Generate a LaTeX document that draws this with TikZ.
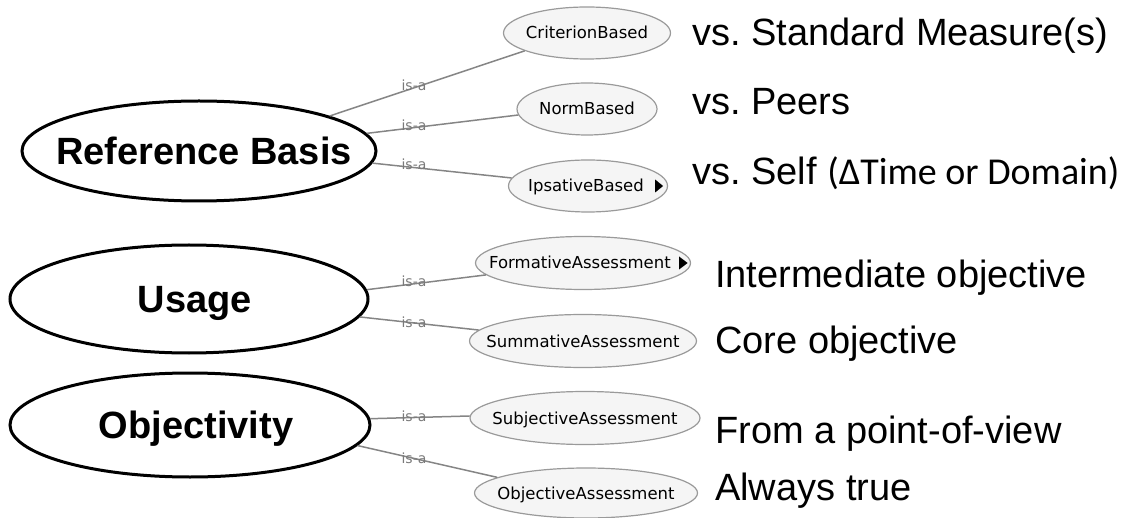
\documentclass[tikz,border=0pt]{standalone}
\usepackage{fontspec}
\setmainfont{Liberation Sans}
\newfontfamily\clsfont{DejaVu Sans}
\newfontfamily\calfont{Carlito}
\usetikzlibrary{shapes.geometric,calc}
\definecolor{edgegray}{HTML}{858585}
\definecolor{isagray}{HTML}{7A7A7A}
\definecolor{clsfill}{HTML}{F5F5F5}
\definecolor{clsdraw}{HTML}{9A9A9A}
\newcommand{\zw}[1]{\makebox[0pt][c]{#1}}
\frenchspacing
\begin{document}
\begin{tikzpicture}[x=1pt,y=-1pt,
  bigclass/.style={ellipse, draw=black, line width=3pt, fill=white, inner sep=0pt,
    text height=27pt, text depth=0pt, font=\fontsize{38}{40}\selectfont\bfseries},
  cls/.style={ellipse, draw=clsdraw, line width=1.2pt, fill=clsfill, inner sep=0pt,
    text height=12pt, text depth=0pt, font=\clsfont\fontsize{16.5}{19}\selectfont},
  isa/.style={text=isagray, inner sep=0pt, anchor=base, font=\clsfont\fontsize{14}{16}\selectfont},
  rel/.style={draw=edgegray, line width=1.5pt},
  note/.style={anchor=base west, inner sep=0pt, font=\fontsize{38}{40}\selectfont},
  tri/.style={fill=black}
]
\useasboundingbox (0,0) rectangle (1126,518);

% main concepts
\node[bigclass, minimum width=354pt, minimum height=100pt] (rb) at (199,151) {\zw{\hspace{10pt}Reference Basis}};
\node[bigclass, minimum width=358pt, minimum height=108pt] (us) at (189,299) {\zw{\hspace{12pt}Usage}};
\node[bigclass, minimum width=360pt, minimum height=104pt] (ob) at (190,425) {\zw{\hspace{12pt}Objectivity}};

% sub classes
\node[cls, minimum width=167pt, minimum height=52pt] (crit) at (587,33) {\zw{CriterionBased}};
\node[cls, minimum width=140pt, minimum height=52pt] (norm) at (587,109) {\zw{NormBased}};
\node[cls, minimum width=159pt, minimum height=52pt] (ips) at (588,186) {\zw{\hspace{-4pt}IpsativeBased}};
\node[cls, minimum width=215pt, minimum height=53pt] (form) at (583,263) {\zw{\hspace{-6pt}FormativeAssessment}};
\node[cls, minimum width=227pt, minimum height=53pt] (summ) at (583,341) {\zw{SummativeAssessment}};
\node[cls, minimum width=230pt, minimum height=53pt] (subj) at (585,418) {\zw{SubjectiveAssessment}};
\node[cls, minimum width=223pt, minimum height=50pt] (obj) at (586,493) {\zw{ObjectiveAssessment}};

% expand triangles
\fill[tri] ($(ips.east)+(-13,-6.5)$) -- ++(0,13) -- ++(8,-6.5) -- cycle;
\fill[tri] ($(form.east)+(-12,-6.5)$) -- ++(0,13) -- ++(8.5,-6.5) -- cycle;

% connectors
\draw[rel] (rb.15) -- (crit.196);
\draw[rel] (rb.6) -- (norm.185);
\draw[rel] (rb.-4) -- (ips.174);
\draw[rel] (us.3.6) -- (form.187);
\draw[rel] (us.-6) -- (summ.174);
\draw[rel] (ob.2.6) -- (subj.179.5);
\draw[rel] (ob.-7.5) -- (obj.170);

% is-a labels
\node[isa] (l1) at (414,91) {is-a};
\node[isa] (l2) at (414,130.5) {is-a};
\node[isa] (l3) at (414,170) {is-a};
\node[isa] (l4) at (414,287) {is-a};
\node[isa] (l5) at (414,327) {is-a};
\node[isa] (l6) at (414,421) {is-a};
\node[isa] (l7) at (414,463) {is-a};

% descriptions
\node[note] (d1) at (692,46) {vs. Standard Measure(s)};
\node[note] (d2) at (692,115) {vs. Peers};
\node[note] (d3) at (692,185) {vs. Self {\calfont\fontsize{38}{40}\selectfont(ΔTime or Domain)}};
\node[note] (d4) at (715,288) {Intermediate objective};
\node[note] (d5) at (715,353) {Core objective};
\node[note] (d6) at (715,443) {From a point-of-view};
\node[note] (d7) at (715,500) {Always true};
\end{tikzpicture}
\end{document}
